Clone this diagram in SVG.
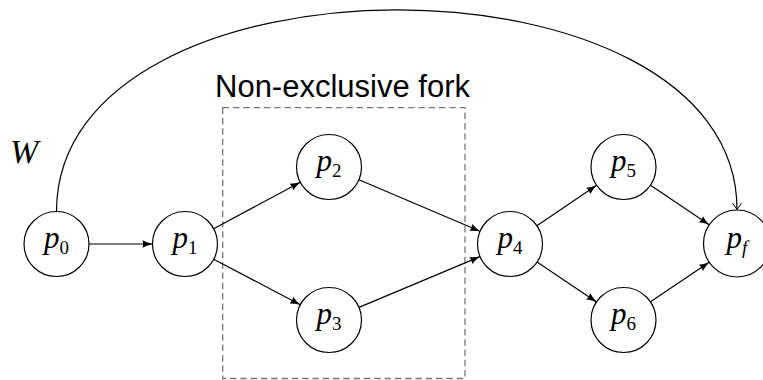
<svg xmlns="http://www.w3.org/2000/svg" width="763" height="380" viewBox="0 0 763 380">
<style>
.node circle{fill:#fff;stroke:#000;stroke-width:1.2}
.lbl{font-family:"Liberation Serif","DejaVu Serif",serif;font-style:italic;font-size:31px;text-anchor:middle;fill:#000}
.sub{font-style:normal;font-size:19px}
.subi{font-size:19px}
.edge{stroke:#000;stroke-width:1.2;fill:none}
</style>
<defs>
<marker id="ah" markerUnits="userSpaceOnUse" markerWidth="12" markerHeight="10" refX="10" refY="4" orient="auto" overflow="visible">
<path d="M0,0.3 Q4,2.5 10,4 Q4,5.5 0,7.7 Q1.5,4 0,0.3 z" fill="#000"/>
</marker>
<marker id="to" markerUnits="userSpaceOnUse" markerWidth="12" markerHeight="12" refX="0" refY="0" orient="auto" overflow="visible">
<path d="M-6.5,-4.5 Q-1.5,-1 0,0 Q-1.5,1 -6.5,4.5" fill="none" stroke="#000" stroke-width="1"/>
</marker>
</defs>
<g id="fork-box">
<rect x="222.7" y="107.7" width="242.3" height="270.8" fill="none" stroke="#777" stroke-width="1.3" stroke-dasharray="6.5 3.8"/>
<text x="215" y="96.5" font-family="'Liberation Sans',Arial,sans-serif" font-size="31" fill="#000">Non-exclusive fork</text>
</g>
<g id="label-W">
<text x="10" y="163" font-family="'Liberation Serif','DejaVu Serif',serif" font-style="italic" font-size="34" fill="#000">W</text>
</g>
<g id="connectors">
<path class="edge" d="M56.5,211.5 C56.5,-57 737,-57 737,209.5" stroke-width="1.1" marker-end="url(#to)"/>
<line class="edge" x1="89" y1="244" x2="152.5" y2="244" marker-end="url(#ah)"/>
<line class="edge" x1="213.7" y1="228.7" x2="300.3" y2="182.3" marker-end="url(#ah)"/>
<line class="edge" x1="213.7" y1="259.2" x2="300.3" y2="304.8" marker-end="url(#ah)"/>
<line class="edge" x1="358.9" y1="179.7" x2="480.1" y2="231.3" marker-end="url(#ah)"/>
<line class="edge" x1="359" y1="307.4" x2="480" y2="256.6" marker-end="url(#ah)"/>
<line class="edge" x1="536.9" y1="225.8" x2="596.6" y2="185.3" marker-end="url(#ah)"/>
<line class="edge" x1="537" y1="262.1" x2="596.5" y2="301.9" marker-end="url(#ah)"/>
<line class="edge" x1="650.5" y1="185.2" x2="709.2" y2="224.8" marker-end="url(#ah)"/>
<line class="edge" x1="650.5" y1="301.8" x2="709.2" y2="262.3" marker-end="url(#ah)"/>
</g>
<g id="p0" class="node"><circle cx="56.5" cy="244" r="32.5"/><text class="lbl" x="56.5" y="248">p<tspan class="sub" dy="6">0</tspan></text></g>
<g id="p1" class="node"><circle cx="185" cy="244" r="32.5"/><text class="lbl" x="185" y="248">p<tspan class="sub" dy="6">1</tspan></text></g>
<g id="p2" class="node"><circle cx="329" cy="167" r="32.5"/><text class="lbl" x="329" y="171">p<tspan class="sub" dy="6">2</tspan></text></g>
<g id="p3" class="node"><circle cx="329" cy="320" r="32.5"/><text class="lbl" x="329" y="324">p<tspan class="sub" dy="6">3</tspan></text></g>
<g id="p4" class="node"><circle cx="510" cy="244" r="32.5"/><text class="lbl" x="510" y="248">p<tspan class="sub" dy="6">4</tspan></text></g>
<g id="p5" class="node"><circle cx="623.5" cy="167" r="32.5"/><text class="lbl" x="623.5" y="171">p<tspan class="sub" dy="6">5</tspan></text></g>
<g id="p6" class="node"><circle cx="623.5" cy="320" r="32.5"/><text class="lbl" x="623.5" y="324">p<tspan class="sub" dy="6">6</tspan></text></g>
<g id="pf" class="node"><circle cx="737" cy="243.5" r="33.5"/><text class="lbl" x="737" y="247.5">p<tspan class="subi" dy="6">f</tspan></text></g>
</svg>
